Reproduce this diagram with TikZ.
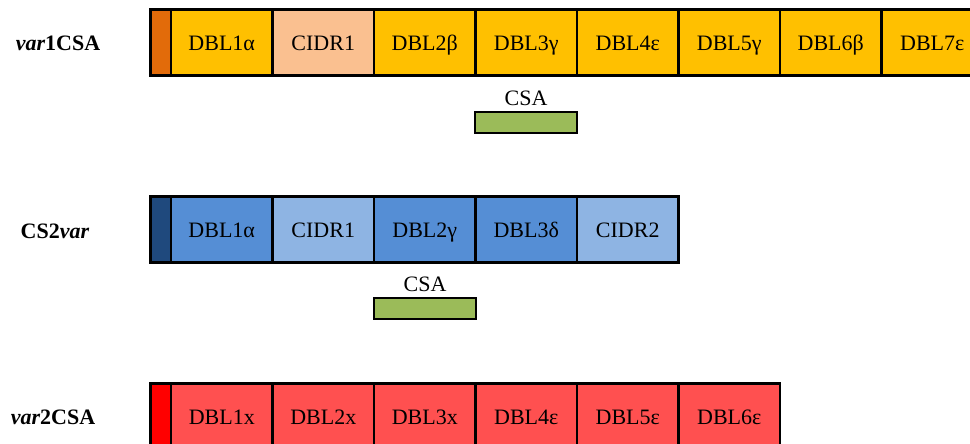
\documentclass[tikz,border=0pt]{standalone}
\usepackage{fontspec}
\setmainfont{Liberation Serif}
\definecolor{leadorange}{HTML}{E26B0A}
\definecolor{yel}{HTML}{FFC000}
\definecolor{peach}{HTML}{FAC090}
\definecolor{darkblue}{HTML}{1F497D}
\definecolor{midblue}{HTML}{558ED5}
\definecolor{lightblue}{HTML}{8EB4E3}
\definecolor{leadred}{HTML}{FF0000}
\definecolor{lightred}{HTML}{FF5050}
\definecolor{csagreen}{HTML}{9BBB59}
\begin{document}
\begin{tikzpicture}[x=1pt,y=-1pt,
  txt/.style={font=\fontsize{22}{24}\selectfont, inner sep=0, outer sep=0},
  dom/.style={txt, text height=16.5pt, text depth=0pt, minimum width=101.5pt, minimum height=66pt},
  lead/.style={minimum width=20.5pt, minimum height=66pt, inner sep=0, outer sep=0},
  border/.style={draw=black, line width=2.2pt},
  csabar/.style={draw=black, line width=2.2pt, fill=csagreen, minimum width=101.5pt, minimum height=21pt, inner sep=0, outer sep=0},
  rowlabel/.style={txt, font=\fontsize{22}{24}\selectfont\bfseries}]
\useasboundingbox (0,0) rectangle (970,444);
\clip (0,0) rectangle (970,444);
% row 1: var1CSA
\node[rowlabel] (l1) at (58,43) {\textit{var}1CSA};
\node[lead, fill=leadorange] (a0) at (160.75,42.5) {};
\foreach \t/\c [count=\i] in {DBL1α/yel, CIDR1/peach, DBL2β/yel, DBL3γ/yel, DBL4ε/yel, DBL5γ/yel, DBL6β/yel, DBL7ε/yel, {}/yel}
  \node[dom, fill=\c] (a\i) at ({171+101.5*(\i-0.5)},42.5) {\t};
\foreach \i in {0,...,9}
  \draw[border] (a\i.north west) rectangle (a\i.south east);
\node[txt] (csa1) at (526,98) {CSA};
\node[csabar] (g1) at (526,122.5) {};
% row 2: CS2var
\node[rowlabel] (l2) at (55,231) {CS2\textit{var}};
\node[lead, fill=darkblue] (b0) at (160.75,229.5) {};
\foreach \t/\c [count=\i] in {DBL1α/midblue, CIDR1/lightblue, DBL2γ/midblue, DBL3δ/midblue, CIDR2/lightblue}
  \node[dom, fill=\c] (b\i) at ({171+101.5*(\i-0.5)},229.5) {\t};
\foreach \i in {0,...,5}
  \draw[border] (b\i.north west) rectangle (b\i.south east);
\node[txt] (csa2) at (425,284) {CSA};
\node[csabar] (g2) at (425,308.5) {};
% row 3: var2CSA
\node[rowlabel] (l3) at (53,417) {\textit{var}2CSA};
\node[lead, fill=leadred] (c0) at (160.75,416.5) {};
\foreach \t [count=\i] in {DBL1x, DBL2x, DBL3x, DBL4ε, DBL5ε, DBL6ε}
  \node[dom, fill=lightred] (c\i) at ({171+101.5*(\i-0.5)},416.5) {\t};
\foreach \i in {0,...,6}
  \draw[border] (c\i.north west) rectangle (c\i.south east);
\end{tikzpicture}
\end{document}
